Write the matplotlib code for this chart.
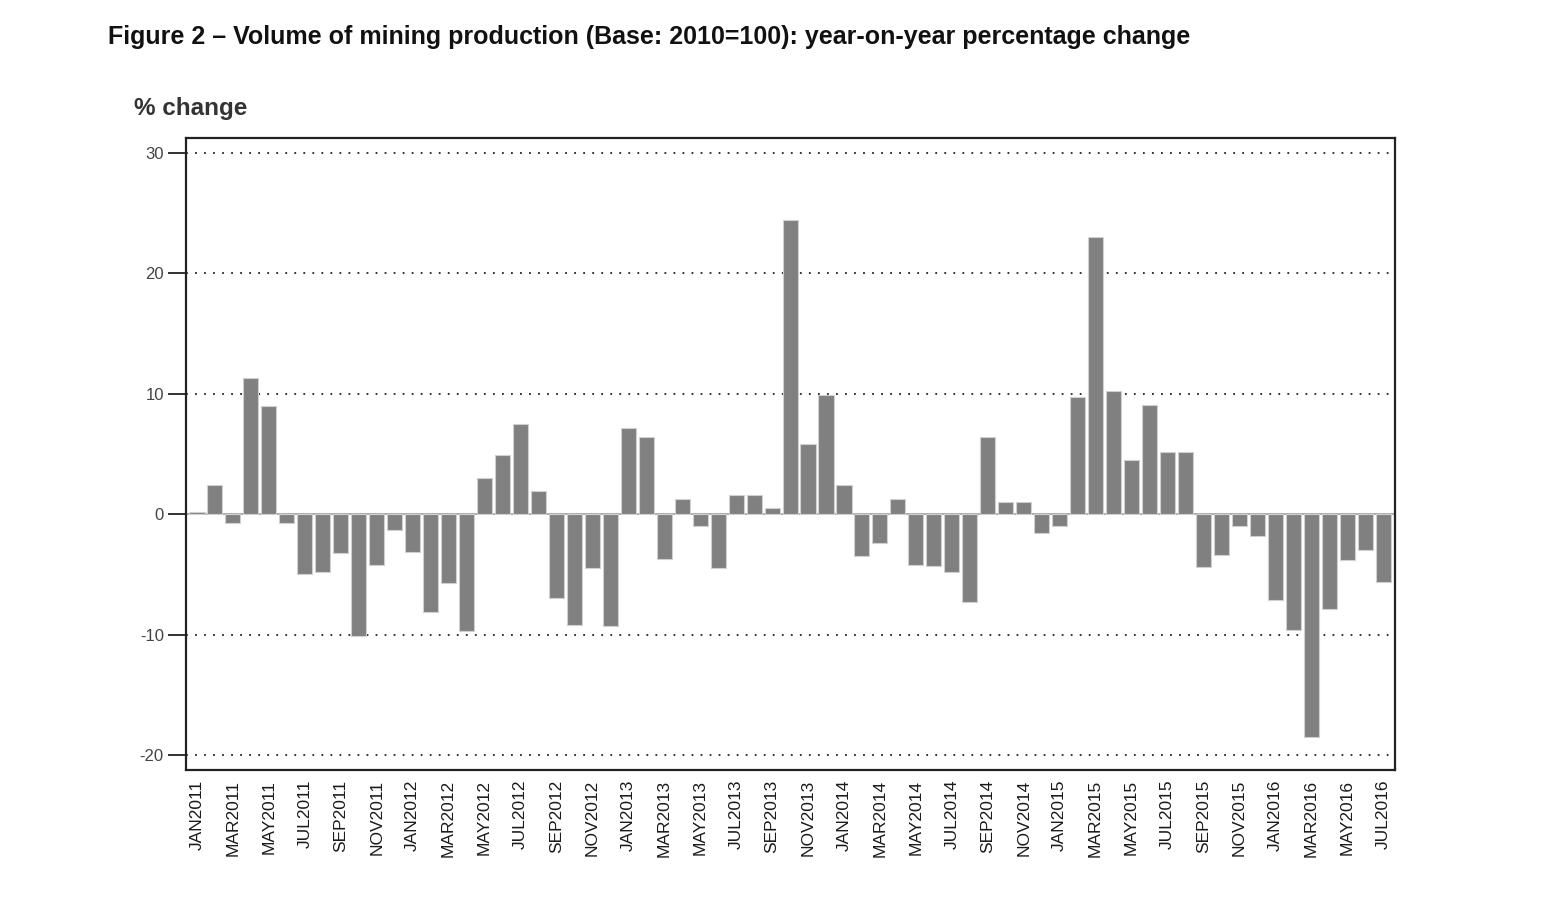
import matplotlib
matplotlib.use("Agg")
import matplotlib.pyplot as plt
import numpy as np

plt.rcParams['font.family'] = ['Liberation Sans', 'DejaVu Sans']

### data: monthly year-on-year % change, JAN2011 - JUL2016 ###
months = ['JAN', 'FEB', 'MAR', 'APR', 'MAY', 'JUN',
          'JUL', 'AUG', 'SEP', 'OCT', 'NOV', 'DEC']
years = [2011, 2012, 2013, 2014, 2015, 2016]
periods = [m + str(y) for y in years for m in months][:67]

values_2011 = [0.2, 2.4, -0.7, 11.3, 9.0, -0.7, -5.0, -4.8, -3.2, -10.1, -4.2, -1.3]
values_2012 = [-3.1, -8.1, -5.7, -9.7, 3.0, 4.9, 7.5, 1.9, -7.0, -9.2, -4.5, -9.3]
values_2013 = [7.2, 6.4, -3.7, 1.3, -1.0, -4.5, 1.6, 1.6, 0.5, 24.4, 5.8, 9.9]
values_2014 = [2.4, -3.5, -2.4, 1.3, -4.2, -4.3, -4.8, -7.3, 6.4, 1.0, 1.0, -1.6]
values_2015 = [-1.0, 9.7, 23.0, 10.2, 4.5, 9.1, 5.2, 5.2, -4.4, -3.4, -1.0, -1.8]
values_2016 = [-7.1, -9.6, -18.5, -7.9, -3.8, -3.0, -5.6]

values = values_2011 + values_2012 + values_2013 + values_2014 + values_2015 + values_2016

y_ticks = [-20, -10, 0, 10, 20, 30]

### plot ###
fig = plt.figure(figsize=(15.51, 9.01), dpi=100)
ax = fig.add_axes([186 / 1551, 1 - 770 / 901, (1395 - 186) / 1551, (770 - 138) / 901])

x = np.arange(len(values))
ax.bar(x, values, width=0.84, color='#808080', edgecolor='#d0d0d0', linewidth=0.8, zorder=3)
ax.axhline(0, color='#a0a0a0', linewidth=1.2, zorder=2)

for yv in y_ticks:
    if yv != 0:
        ax.axhline(yv, color='#222222', linestyle=(0, (1, 4)), linewidth=1.3, zorder=1)

ax.set_xlim(-0.61, 66.66)
ax.set_ylim(-21.25, 31.25)
ax.set_yticks(y_ticks)
ax.set_yticklabels([str(v) for v in y_ticks], fontsize=12, color='#444444')
ax.tick_params(axis='y', length=13, width=1.3, color='#222222', pad=3)

ax.set_xticks(x[::2])
ax.set_xticklabels(periods[::2], rotation=90, fontsize=12.5, color='#1a1a1a')
ax.tick_params(axis='x', length=0, pad=7)

for s in ax.spines.values():
    s.set_linewidth(1.6)
    s.set_color('#222222')

fig.text(108 / 1551, 1 - 37 / 901, 'Figure 2 \u2013 Volume of mining production (Base: 2010=100): year-on-year percentage change',
         fontsize=18, fontweight='bold', va='center', ha='left', color='#111111')
fig.text(134 / 1551, 1 - 108 / 901, '% change', fontsize=17.5, fontweight='bold',
         va='center', ha='left', color='#333333')

fig.savefig('out.png', dpi=100)
